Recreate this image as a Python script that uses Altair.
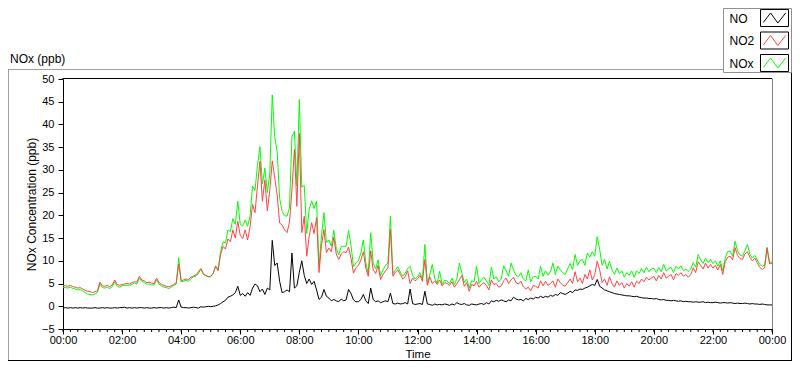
import altair as alt
import pandas as pd

# ---------------- data (5-minute samples, 00:00 .. 24:00) ----------------
no_vals = [
    -0.4, -0.3, -0.4, -0.3, -0.4, -0.3, -0.4, -0.3, -0.4, -0.3, -0.4, -0.4,
    -0.4, -0.3, -0.4, -0.4, -0.3, -0.4, -0.3, -0.4, -0.4, -0.3, -0.4, -0.3,
    -0.3, -0.2, -0.4, -0.3, -0.4, -0.3, -0.4, -0.3, -0.3, -0.4, -0.3, -0.4,
    -0.4, -0.3, -0.4, -0.3, -0.3, -0.4, -0.3, -0.4, -0.3, -0.2, -0.3, 1.4,
    -0.2, -0.3, -0.3, -0.4, -0.3, -0.2, -0.3, -0.4, -0.1, -0.2, -0.1, 0.0,
    -0.1, 0.0, 0.1, 0.3, 0.6, 1.0, 1.3, 2.0, 2.2, 2.5, 3.0, 4.4,
    2.4, 2.8, 2.2, 3.0, 2.4, 4.0, 4.9, 4.5, 3.2, 3.8, 2.6, 4.0,
    3.6, 14.5, 9.0, 9.5, 5.5, 3.0, 3.2, 3.6, 3.2, 11.7, 4.0, 4.5,
    7.5, 10.0, 6.8, 5.0, 6.0, 4.8, 5.5, 3.6, 1.5, 2.0, 3.7, 2.2,
    1.8, 1.2, 1.5, 1.2, 1.0, 1.6, 1.2, 1.4, 3.7, 2.8, 1.4, 1.0,
    1.0, 1.5, 2.6, 1.2, 0.6, 4.0, 1.5, 1.0, 1.2, 0.8, 1.0, 1.2,
    1.0, 2.9, 0.6, 0.5, 0.7, 0.5, 0.6, 0.8, 0.5, 3.8, 0.6, 0.4,
    0.5, 0.6, 0.4, 3.3, 0.5, 0.4, 0.2, 0.5, 0.3, 0.4, 0.3, 0.5,
    0.4, 0.2, 0.5, 0.3, 0.8, 0.5, 0.4, 0.6, 0.3, 0.2, 0.5, 0.4,
    0.3, 0.5, 0.6, 0.4, 0.8, 0.5, 1.2, 1.0, 1.3, 1.1, 1.4, 1.2,
    1.0, 1.4, 1.2, 2.0, 1.6, 1.4, 1.5, 1.2, 1.7, 1.5, 1.8, 1.6,
    2.0, 1.8, 2.2, 1.9, 2.2, 2.0, 2.4, 2.2, 2.6, 2.4, 3.0, 2.8,
    2.6, 2.9, 3.3, 3.0, 3.6, 3.5, 3.8, 3.7, 4.0, 4.2, 4.5, 4.8,
    4.6, 5.9, 4.4, 4.0, 3.6, 3.4, 3.2, 3.0, 2.8, 2.7, 2.6, 2.5,
    2.4, 2.3, 2.3, 2.2, 2.1, 2.2, 2.0, 1.9, 1.8, 1.8, 1.7, 1.7,
    1.6, 1.7, 1.5, 1.4, 1.5, 1.3, 1.3, 1.2, 1.3, 1.2, 1.1, 1.2,
    1.0, 1.1, 1.0, 1.0, 0.9, 1.0, 0.9, 0.9, 1.0, 0.8, 0.9, 0.8,
    0.8, 0.9, 0.8, 0.7, 0.8, 0.8, 0.7, 0.8, 0.7, 0.6, 0.7, 0.6,
    0.6, 0.7, 0.6, 0.5, 0.6, 0.5, 0.5, 0.4, 0.5, 0.4, 0.3, 0.3,
    0.3,
]

no2_vals = [
    4.6, 4.5, 4.4, 4.6, 4.3, 4.2, 4.0, 4.1, 3.8, 3.5, 3.3, 3.2,
    3.0, 3.2, 3.4, 5.3, 4.5, 4.4, 4.6, 4.3, 4.7, 5.8, 4.8, 4.6,
    4.8, 4.9, 5.0, 4.9, 5.2, 5.4, 5.3, 6.6, 5.8, 5.6, 5.2, 5.3,
    5.1, 5.0, 6.2, 5.2, 4.8, 4.6, 4.4, 4.3, 4.5, 4.8, 5.2, 9.3,
    5.6, 5.8, 6.0, 5.9, 6.4, 6.7, 6.9, 7.6, 8.3, 7.2, 6.8, 6.5,
    6.6, 7.2, 8.8, 7.8, 11.4, 13.2, 12.6, 14.8, 14.2, 16.8, 15.0, 18.7,
    15.6, 14.9, 16.8, 14.6, 17.5, 22.4, 20.6, 26.5, 31.9, 23.1, 27.8, 21.0,
    25.5, 32.0, 28.3, 24.5, 18.3, 17.9, 16.8, 16.2, 18.5, 25.6, 34.5, 22.0,
    38.0, 16.2, 19.8, 11.0, 15.4, 18.4, 16.0, 19.5, 7.4, 13.5, 16.9, 11.8,
    12.8, 12.0, 15.2, 11.5, 10.3, 11.5, 12.0, 11.8, 13.0, 10.5, 7.3, 8.5,
    9.0, 10.2, 12.0, 8.4, 6.6, 12.2, 8.0, 7.2, 9.0, 5.9, 7.0, 7.8,
    8.5, 16.9, 6.6, 7.5, 8.0, 7.0, 6.0, 6.5, 7.8, 5.0, 6.2, 5.6,
    6.0, 6.8, 5.5, 10.3, 4.6, 6.5, 5.0, 5.6, 4.8, 5.8, 4.5, 5.2,
    5.0, 4.6, 5.4, 4.2, 5.0, 5.8, 6.8, 4.4, 5.2, 3.3, 4.8, 4.5,
    5.5, 4.2, 4.8, 5.2, 4.6, 3.6, 5.8, 4.8, 5.0, 4.2, 4.5, 5.6,
    6.2, 5.0, 5.8, 6.4, 5.2, 4.9, 5.5, 4.3, 3.8, 4.2, 3.4, 4.6,
    4.4, 4.0, 5.6, 4.5, 5.5, 4.6, 5.0, 5.6, 4.2, 6.0, 5.2, 4.6,
    4.4, 5.2, 6.0, 5.0, 7.6, 5.4, 6.2, 5.0, 7.0, 6.0, 8.0, 5.8,
    7.0, 9.9, 8.0, 5.2, 6.0, 4.6, 6.5, 5.0, 4.2, 5.6, 4.6, 5.2,
    4.0, 5.0, 4.4, 5.4, 4.2, 5.5, 5.0, 6.0, 5.4, 6.4, 5.8, 6.2,
    6.6, 5.6, 6.8, 6.0, 7.4, 6.2, 6.6, 7.0, 5.8, 7.2, 6.8, 7.4,
    6.6, 7.0, 6.4, 7.0, 8.5, 7.4, 9.8, 9.0, 8.2, 9.5, 8.4, 9.2,
    8.4, 9.0, 8.0, 9.2, 7.0, 9.8, 10.8, 11.0, 10.2, 12.9, 11.2, 10.5,
    10.3, 11.5, 12.0, 10.8, 10.0, 10.6, 9.6, 8.6, 8.1, 8.5, 12.8, 9.3,
    9.5,
]

nox_vals = [
    4.2, 4.1, 4.0, 4.2, 3.9, 3.8, 3.6, 3.7, 3.4, 3.0, 2.7, 2.6,
    2.5, 2.7, 3.0, 4.9, 4.1, 4.0, 4.2, 3.9, 4.3, 5.4, 4.4, 4.2,
    4.5, 4.6, 4.6, 4.6, 4.8, 5.1, 4.9, 6.2, 5.5, 5.2, 4.9, 4.9,
    4.7, 4.7, 5.8, 4.9, 4.5, 4.2, 4.1, 3.9, 4.2, 4.6, 4.9, 10.7,
    5.4, 5.5, 5.7, 5.5, 6.1, 6.5, 6.6, 7.2, 8.2, 7.0, 6.7, 6.5,
    6.5, 7.2, 8.9, 8.1, 12.0, 14.2, 13.9, 16.8, 16.4, 19.3, 18.0, 23.1,
    18.0, 17.7, 19.0, 17.6, 19.9, 26.4, 25.5, 31.0, 35.1, 26.9, 30.4, 25.0,
    29.1, 46.5, 37.3, 34.0, 23.8, 20.9, 20.0, 19.8, 21.7, 37.3, 38.5, 26.5,
    45.5, 26.2, 26.6, 16.0, 21.4, 23.2, 21.5, 23.1, 8.9, 15.5, 20.6, 14.0,
    14.6, 13.2, 16.7, 12.7, 11.3, 13.1, 13.2, 13.2, 16.7, 13.3, 8.7, 9.5,
    10.0, 11.7, 14.6, 9.6, 7.2, 16.2, 9.5, 8.2, 10.2, 6.7, 8.0, 9.0,
    9.5, 19.8, 7.2, 8.0, 8.7, 7.5, 6.6, 7.3, 8.3, 8.8, 6.8, 6.0,
    6.5, 7.4, 5.9, 13.6, 5.1, 6.9, 9.2, 6.1, 5.1, 7.7, 4.8, 5.7,
    5.6, 5.0, 6.2, 4.8, 6.0, 9.5, 7.4, 5.2, 6.0, 4.0, 5.6, 5.4,
    8.8, 5.0, 5.8, 6.4, 5.6, 4.6, 8.6, 6.0, 6.5, 5.4, 6.0, 8.9,
    7.8, 6.6, 9.5, 8.0, 6.8, 6.5, 7.4, 6.0, 5.6, 8.0, 5.4, 6.5,
    6.6, 6.0, 8.8, 6.6, 7.8, 6.8, 7.6, 9.5, 7.0, 8.8, 8.0, 7.4,
    7.0, 8.2, 9.4, 8.0, 11.4, 9.0, 10.0, 10.3, 9.0, 11.7, 10.8, 12.0,
    11.0, 15.3, 12.5, 9.0, 10.3, 8.2, 9.9, 8.0, 7.0, 8.4, 7.2, 7.8,
    6.4, 7.4, 6.8, 7.8, 6.4, 7.8, 7.2, 8.3, 7.4, 8.6, 7.6, 8.2,
    8.4, 7.4, 8.5, 7.6, 9.2, 7.8, 8.2, 8.6, 7.4, 8.8, 8.2, 8.9,
    7.8, 8.2, 7.6, 8.2, 9.6, 8.6, 11.4, 10.2, 9.4, 10.6, 9.6, 10.3,
    9.4, 10.0, 8.8, 10.0, 7.8, 10.6, 12.1, 12.1, 11.0, 14.3, 12.2, 11.3,
    11.0, 12.2, 13.6, 11.5, 10.6, 11.2, 10.2, 9.2, 8.8, 9.0, 13.0, 9.6,
    9.8,
]

series_names = ["NO", "NO2", "NOx"]
series_colors = ["#000000", "#FF4444", "#00FF00"]
x_major_hours = list(range(0, 25, 2))
y_ticks = list(range(-5, 51, 5))
y_title = "NOx Concentration (ppb)"
x_title = "Time"
chart_label = "NOx (ppb)"

# ---------------- tables ----------------
times = pd.date_range("2020-01-01 00:00", periods=len(no_vals), freq="5min")
df = pd.DataFrame({
    "time": times.strftime("%Y-%m-%dT%H:%M:%S"),
    "NO": no_vals,
    "NO2": no2_vals,
    "NOx": nox_vals,
})
minor = pd.DataFrame({
    "time": pd.date_range("2020-01-01 00:00", "2020-01-02 00:00", freq="15min").strftime("%Y-%m-%dT%H:%M:%S")
})


def dt(h):
    return alt.DateTime(year=2020, month=1, date=1 + h // 24, hours=h % 24)


# svg is 784 x 353 (page 8..792, 8..361); plot area at page (63,79)-(772,329)
W, H = 709, 250
PADL, PADT, PADR, PADB = 55, 71, 20, 32
FONT = "Liberation Sans"
RIGHT = 728.5   # outer frame right edge (view coords)
BOTTOM = 281.5  # outer frame bottom edge (view coords)
LEG_L = 660.5   # legend box left edge

x_enc = alt.X(
    "time:T",
    scale=alt.Scale(domain=[dt(0), dt(24)], nice=False),
    axis=alt.Axis(
        values=[dt(h) for h in x_major_hours], format="%H:%M", title=x_title,
        tickSize=5, labelPadding=0, labelFlush=False, labelOverlap=False,
        titleY=28.5, titleBaseline="alphabetic", titleFontSize=11.5,
    ),
)
y_scale = alt.Scale(domain=[-5, 50], nice=False, zero=False)
y_axis = alt.Axis(
    values=y_ticks, title=y_title, tickSize=5, labelPadding=4,
    titleX=-37, titleY=H / 2, titleAngle=-90, titleAlign="center", titleBaseline="top",
)

one = alt.Data(values=[{}])

layers = []
# series: NOx (green) first, then NO2 (red), then NO (black) on top
for name in ["NOx", "NO2", "NO"]:
    col = series_colors[series_names.index(name)]
    layers.append(
        alt.Chart(df).mark_line(strokeWidth=1, color=col).encode(
            x=x_enc, y=alt.Y(f"{name}:Q", scale=y_scale, axis=y_axis)
        )
    )

# minor ticks on x axis
layers.append(
    alt.Chart(minor).mark_rule(color="black", strokeWidth=1).encode(
        x=x_enc, y=alt.value(H), y2=alt.value(H + 3)
    )
)

# plot top (black) and right (gray) borders
layers.append(alt.Chart(one).mark_rule(color="black").encode(
    x=alt.value(-0.5), x2=alt.value(W), y=alt.value(-0.5)))
layers.append(alt.Chart(one).mark_rule(color="#808080").encode(
    x=alt.value(W + 0.5), y=alt.value(-0.5), y2=alt.value(H)))

# outer frame
layers.append(alt.Chart(one).mark_rule(color="#a0a0a0").encode(
    x=alt.value(-PADL), x2=alt.value(LEG_L), y=alt.value(-9.5)))
layers.append(alt.Chart(one).mark_rule(color="#a0a0a0").encode(
    x=alt.value(-PADL + 0.5), y=alt.value(-9.5), y2=alt.value(BOTTOM)))
layers.append(alt.Chart(one).mark_rule(color="black").encode(
    x=alt.value(-PADL), x2=alt.value(RIGHT + 0.5), y=alt.value(BOTTOM)))
layers.append(alt.Chart(one).mark_rule(color="black").encode(
    x=alt.value(RIGHT), y=alt.value(-7), y2=alt.value(BOTTOM)))

# chart label
layers.append(alt.Chart(one).mark_text(
    align="left", baseline="alphabetic", font=FONT, fontSize=12, color="black"
).encode(x=alt.value(-53), y=alt.value(-16), text=alt.value(chart_label)))

# legend box
layers.append(alt.Chart(one).mark_rect(fill="white", stroke="#909090", strokeWidth=1).encode(
    x=alt.value(LEG_L), x2=alt.value(RIGHT), y=alt.value(-70.5), y2=alt.value(-6.5)))
box_tops = [-70, -47.5, -25]
for i, name in enumerate(series_names):
    top = box_tops[i]
    layers.append(alt.Chart(one).mark_text(
        align="left", baseline="middle", font=FONT, fontSize=12, color="black"
    ).encode(x=alt.value(LEG_L + 6), y=alt.value(top + 9.5), text=alt.value(name)))
    layers.append(alt.Chart(one).mark_rect(fill="white", stroke="black", strokeWidth=1).encode(
        x=alt.value(LEG_L + 37), x2=alt.value(LEG_L + 65), y=alt.value(top + 0.5), y2=alt.value(top + 17.5)))
    layers.append(alt.Chart(one).mark_point(
        shape="M-1,0.4L-0.35,-0.45L0.3,0.45L1,-0.45", filled=False, strokeWidth=1,
        color=series_colors[i], opacity=1, size=500,
    ).encode(x=alt.value(LEG_L + 51), y=alt.value(top + 9)))

chart = alt.layer(*layers).properties(
    width=W, height=H,
    autosize=alt.AutoSizeParams(type="none"),
    padding={"left": PADL, "top": PADT, "right": PADR, "bottom": PADB},
    background="white",
).configure_view(stroke=None).configure_axis(
    grid=False, domainColor="black", tickColor="black", labelColor="black",
    titleColor="black", labelFont=FONT, titleFont=FONT, labelFontSize=11,
    titleFontSize=12, titleFontWeight="normal",
)

chart.save("out.html", embed_options={"renderer": "svg", "actions": False})
